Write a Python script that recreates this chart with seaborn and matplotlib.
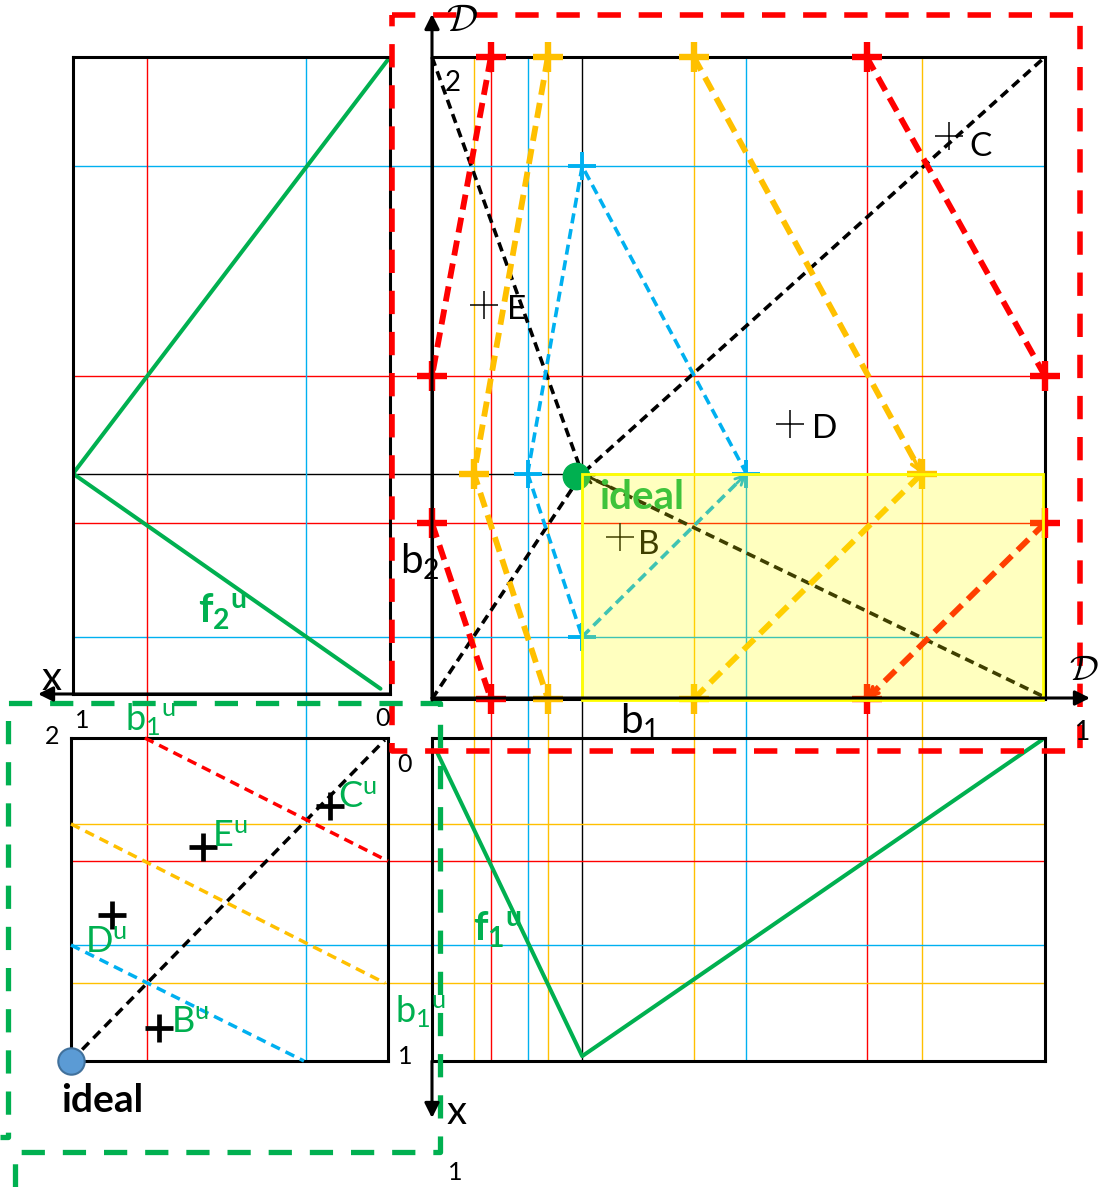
import matplotlib
matplotlib.use("Agg")
import matplotlib.pyplot as plt
import matplotlib.transforms as mtransforms
from matplotlib.lines import Line2D
from matplotlib.patches import Rectangle
import seaborn as sns

W, H = 1103, 1187

# ---------------- data ----------------
COL = {"orange": "#ffc000", "red": "#ff0000", "blue": "#00b0f0",
       "black": "#000000", "green": "#00b050"}

# reference lines: b1 (right column), b2 (top row)
b1_lines = [0.0685, 0.096, 0.156, 0.189, 0.245, 0.427, 0.513, 0.709, 0.799]
b1_colors = ["orange", "red", "blue", "orange", "black", "orange", "blue", "red", "orange"]
b2_lines = [0.830, 0.503, 0.351, 0.274, 0.097]
b2_colors = ["blue", "red", "black", "red", "blue"]
# x under f2u (left column) and x under f1u (bottom row)
x2_lines = [0.767, 0.265]
x2_colors = ["red", "blue"]
x1_lines = [0.266, 0.381, 0.641, 0.759]
x1_colors = ["orange", "red", "blue", "orange"]

# utility curves
f2u_x = [0.0, 1.0, 0.03]
f2u_b2 = [1.0, 0.351, 0.016]
f1u_b1 = [0.008, 0.245, 0.995]
f1u_x = [0.043, 0.985, 0.006]

ideal_b1, ideal_b2 = 0.245, 0.351
ideal_dot = (0.235, 0.348)

# boundary crosses in the b1-b2 plane
red_cross_b1 = [0.096, 0.0, 0.0, 0.096, 0.709, 1.0, 1.0, 0.709]
red_cross_b2 = [1.0, 0.503, 0.274, 0.0, 1.0, 0.503, 0.274, 0.0]
orange_cross_b1 = [0.189, 0.0685, 0.189, 0.427, 0.799, 0.427]
orange_cross_b2 = [1.0, 0.351, 0.0, 1.0, 0.351, 0.0]
blue_cross_b1 = [0.245, 0.156, 0.513, 0.245]
blue_cross_b2 = [0.830, 0.351, 0.351, 0.097]

# dashed iso-utility paths
red_paths = [[(0.096, 1.0), (0.0, 0.503)],
             [(0.0, 0.274), (0.096, 0.0)],
             [(0.709, 1.0), (1.0, 0.503)],
             [(1.0, 0.274), (0.709, 0.0)]]
orange_paths = [[(0.189, 1.0), (0.0685, 0.351), (0.189, 0.0)],
                [(0.427, 1.0), (0.799, 0.351)],
                [(0.427, 0.0), (0.799, 0.351)]]
blue_paths = [[(0.156, 0.351), (0.245, 0.830), (0.513, 0.351)],
              [(0.156, 0.351), (0.245, 0.097)],
              [(0.245, 0.097), (0.513, 0.351)]]
black_paths = [[(0.0, 0.0), (0.245, 0.351), (1.0, 1.0)],
               [(0.0, 1.0), (0.245, 0.351)],
               [(0.995, 0.005), (0.245, 0.351)]]

# alternatives
pt_names = ["C", "E", "D", "B"]
pt_b1 = [0.843, 0.085, 0.584, 0.307]
pt_b2 = [0.877, 0.614, 0.428, 0.253]
pt_off = [(32, -11), (33, -5), (35, -5), (29, -8)]
# the same alternatives in utility space (x under f2u, x under f1u)
ptu_x2 = [0.183, 0.584, 0.871, 0.722]
ptu_x1 = [0.211, 0.337, 0.548, 0.898]
ptu_off = [(8, 9), (9, 10), (-27, -27), (12, 6)]

# iso-utility lines in utility space
u_black = [(1.0, 1.0), (0.01, 0.006)]
u_red = [(0.767, 0.0), (0.0, 0.381)]
u_orange = [(1.0, 0.266), (0.009, 0.759)]
u_blue = [(1.0, 0.641), (0.265, 1.0)]

# ---------------- style ----------------
sns.set_theme(style="white")
plt.rcParams["font.family"] = ["Lato", "DejaVu Sans"]
plt.rcParams.update({"mathtext.fontset": "custom", "mathtext.rm": "Lato",
                     "mathtext.it": "Lato:italic", "mathtext.bf": "Lato:bold"})

fig = plt.figure(figsize=(W / 100, H / 100), dpi=100)
fig.patch.set_facecolor("white")


def px_axes(box, z):
    x0, y0, x1, y1 = box
    ax = fig.add_axes([x0 / W, 1 - y1 / H, (x1 - x0) / W, (y1 - y0) / H], zorder=z)
    ax.set_facecolor("none")
    ax.set_xticks([])
    ax.set_yticks([])
    for s in ax.spines.values():
        s.set_linewidth(2.2)
        s.set_color("black")
    return ax


MAIN = (432, 57, 1045, 699)
LEFT = (73, 57, 390, 694)
BOTTOM = (432, 738, 1045, 1061)
BLEFT = (71, 738, 388, 1061)

back = fig.add_axes([0, 0, 1, 1], zorder=0)
back.set_axis_off()
ax_main = px_axes(MAIN, 1)
ax_left = px_axes(LEFT, 1)
ax_bot = px_axes(BOTTOM, 1)
ax_bl = px_axes(BLEFT, 1)
top = fig.add_axes([0, 0, 1, 1], zorder=3)
top.set_axis_off()
top.set_facecolor("none")
top.set_xlim(0, W)
top.set_ylim(H, 0)

ax_main.set_xlim(0, 1)
ax_main.set_ylim(0, 1)
ax_left.set_xlim(1, 0)
ax_left.set_ylim((MAIN[3] - LEFT[3]) / (MAIN[3] - MAIN[1]), 1)
ax_bot.set_xlim(0, 1)
ax_bot.set_ylim(1, 0)
ax_bl.set_xlim(1, 0)
ax_bl.set_ylim(1, 0)

# ---------------- reference grid spanning the panels ----------------
fy = lambda p: 1 - p / H
fx = lambda p: p / W
for v, c in zip(b1_lines, b1_colors):
    tr = mtransforms.blended_transform_factory(ax_main.transData, fig.transFigure)
    back.add_line(Line2D([v, v], [fy(MAIN[1]), fy(BOTTOM[3])], transform=tr,
                         color=COL[c], lw=1.0, clip_on=False))
for v, c in zip(b2_lines, b2_colors):
    tr = mtransforms.blended_transform_factory(fig.transFigure, ax_main.transData)
    back.add_line(Line2D([fx(LEFT[0]), fx(MAIN[2])], [v, v], transform=tr,
                         color=COL[c], lw=1.0, clip_on=False))
for v, c in zip(x2_lines, x2_colors):
    tr = mtransforms.blended_transform_factory(ax_left.transData, fig.transFigure)
    back.add_line(Line2D([v, v], [fy(LEFT[1]), fy(BLEFT[3])], transform=tr,
                         color=COL[c], lw=1.0, clip_on=False))
for v, c in zip(x1_lines, x1_colors):
    tr = mtransforms.blended_transform_factory(fig.transFigure, ax_bot.transData)
    back.add_line(Line2D([fx(BLEFT[0]), fx(BOTTOM[2])], [v, v], transform=tr,
                         color=COL[c], lw=1.0, clip_on=False))


def dashed(ax, path, color, lw, dashes, z=4):
    xs, ys = zip(*path)
    ax.plot(xs, ys, color=color, lw=lw, dashes=dashes, clip_on=False,
            zorder=z, solid_capstyle="butt", dash_capstyle="butt")


def head(ax, path, color, lw):
    (x0, y0), (x1, y1) = path[-2], path[-1]
    ax.annotate("", xy=(x1, y1), xytext=(x1 - 0.06 * (x1 - x0), y1 - 0.06 * (y1 - y0)),
                arrowprops=dict(arrowstyle="->", color=color, lw=lw,
                                shrinkA=0, shrinkB=0, mutation_scale=16),
                annotation_clip=False, zorder=4)


# ---------------- main b1-b2 panel ----------------
for p in black_paths:
    dashed(ax_main, p, "black", 2.6, (2.6, 1.6))
head(ax_main, black_paths[2], "black", 2.0)
for p in blue_paths:
    dashed(ax_main, p, COL["blue"], 2.6, (2.8, 1.6))
head(ax_main, blue_paths[2], COL["blue"], 2.0)
for p in orange_paths:
    dashed(ax_main, p, COL["orange"], 4.2, (2.6, 1.4))
head(ax_main, orange_paths[1], COL["orange"], 2.6)
for p in red_paths:
    dashed(ax_main, p, COL["red"], 4.2, (2.6, 1.4))
head(ax_main, red_paths[3], COL["red"], 2.6)

ax_main.plot(red_cross_b1, red_cross_b2, ls="none", marker="+", ms=21, mew=4.6,
             color=COL["red"], clip_on=False, zorder=5)
ax_main.plot(orange_cross_b1, orange_cross_b2, ls="none", marker="+", ms=21, mew=4.6,
             color=COL["orange"], clip_on=False, zorder=5)
ax_main.plot(blue_cross_b1, blue_cross_b2, ls="none", marker="+", ms=20, mew=2.8,
             color=COL["blue"], clip_on=False, zorder=5)

ax_main.plot(pt_b1, pt_b2, ls="none", marker="+", ms=20, mew=1.1, color="black", zorder=5)
for n, x, y, o in zip(pt_names, pt_b1, pt_b2, pt_off):
    ax_main.annotate(n, (x, y), xytext=o, textcoords="offset pixels", ha="center",
                     va="center", fontsize=24, color="black", zorder=5)

ax_main.plot([ideal_dot[0]], [ideal_dot[1]], ls="none", marker="o", ms=19,
             color=COL["green"], clip_on=False, zorder=6)
ax_main.annotate("ideal", (ideal_b1, ideal_b2), xytext=(17, -24), textcoords="offset pixels",
                 ha="left", va="center", fontsize=29, fontweight="bold",
                 color=COL["green"], zorder=6)

# feasible region above the ideal point
ax_main.add_patch(Rectangle((ideal_b1, -0.002), 0.997 - ideal_b1, ideal_b2 + 0.002,
                            facecolor="#ffff00", alpha=0.25, edgecolor="none",
                            zorder=8, clip_on=False))
ax_main.add_patch(Rectangle((ideal_b1, -0.002), 0.997 - ideal_b1, ideal_b2 + 0.002,
                            facecolor="none", edgecolor="#ffff00", lw=2.0,
                            zorder=9, clip_on=False))

# ---------------- utility curves ----------------
sns.lineplot(x=f2u_x, y=f2u_b2, sort=False, estimator=None, ax=ax_left,
             color=COL["green"], lw=2.9)
sns.lineplot(x=f1u_b1, y=f1u_x, sort=False, estimator=None, ax=ax_bot,
             color=COL["green"], lw=2.9)
for a in (ax_left, ax_bot):
    if a.get_legend():
        a.get_legend().remove()
    a.set_xticks([])
    a.set_yticks([])
    a.set_xlabel("")
    a.set_ylabel("")

# ---------------- utility space panel ----------------
dashed(ax_bl, u_black, "black", 2.5, (2.8, 1.8))
dashed(ax_bl, u_red, COL["red"], 2.5, (2.8, 1.8))
dashed(ax_bl, u_orange, COL["orange"], 2.5, (2.8, 1.8))
dashed(ax_bl, u_blue, COL["blue"], 2.5, (2.8, 1.8))
ax_bl.plot(ptu_x2, ptu_x1, ls="none", marker="+", ms=20, mew=3.4, color="black", zorder=5)
for n, x, y, o in zip(pt_names, ptu_x2, ptu_x1, ptu_off):
    ax_bl.annotate(n + r"$^{\mathrm{u}}$", (x, y), xytext=o, textcoords="offset pixels",
                   ha="left", va="center", fontsize=26, color=COL["green"], zorder=6)
ax_bl.plot([1.0], [1.0], ls="none", marker="o", ms=19, mfc="#5b9bd5", mec="#41719c",
           mew=1.5, clip_on=False, zorder=6)

# ---------------- axes arrows ----------------
def arrow(p_from, p_to):
    top.annotate("", xy=p_to, xytext=p_from,
                 arrowprops=dict(arrowstyle="-|>", color="black", lw=2.2,
                                 shrinkA=0, shrinkB=0, mutation_scale=22))


arrow((432, 700), (432, 14))
arrow((432, 698), (1090, 698))
arrow((390, 694), (38, 694))
arrow((432, 1061), (432, 1118))

# ---------------- dashed group frames ----------------
frame_red_x = [392, 1080, 1080, 392, 392]
frame_red_y = [15, 15, 751, 751, 15]
top.plot(frame_red_x, frame_red_y, color=COL["red"], lw=4.0, dashes=(4.2, 3.2),
         solid_capstyle="butt", dash_capstyle="butt")
frame_green_x = [15, 15, 440, 440, 8, 8, 0]
frame_green_y = [1187, 1152, 1152, 703, 703, 1137, 1137]
top.plot(frame_green_x, frame_green_y, color=COL["green"], lw=3.8, dashes=(4.4, 3.4),
         dash_capstyle="butt")

# ---------------- labels ----------------
def label(x, y, s, size, color="black", weight="normal", **kw):
    top.text(x, y, s, fontsize=size, color=color, fontweight=weight,
             ha="center", va="center", **kw)


label(462, 20, r"$\mathcal{D}$", 28, math_fontfamily="cm")
label(1084, 670, r"$\mathcal{D}$", 26, math_fontfamily="cm")
label(453, 83, "2", 20)
label(420, 562, r"b$_{2}$", 29)
label(640, 722, r"b$_{1}$", 29)
label(1083, 733, "1", 19)
label(52, 678, "x", 29)
label(457, 1112, "x", 29)
label(82, 720, "1", 18)
label(383, 718, "0", 18)
label(52, 737, "2", 18)
label(405, 765, "0", 18)
label(405, 1057, "1", 18)
label(455, 1172, "1", 18)
label(102, 1100, "ideal", 28, weight="bold")
label(150, 720, r"b$_{1}{}^{\mathrm{u}}$", 26, color=COL["green"])
label(420, 1012, r"b$_{1}{}^{\mathrm{u}}$", 26, color=COL["green"])
label(222, 612, r"$\mathbf{f}_{\mathbf{2}}{}^{\mathbf{u}}$", 29, color=COL["green"])
label(497, 930, r"$\mathbf{f}_{\mathbf{1}}{}^{\mathbf{u}}$", 29, color=COL["green"])

fig.savefig("out.png", dpi=100)
